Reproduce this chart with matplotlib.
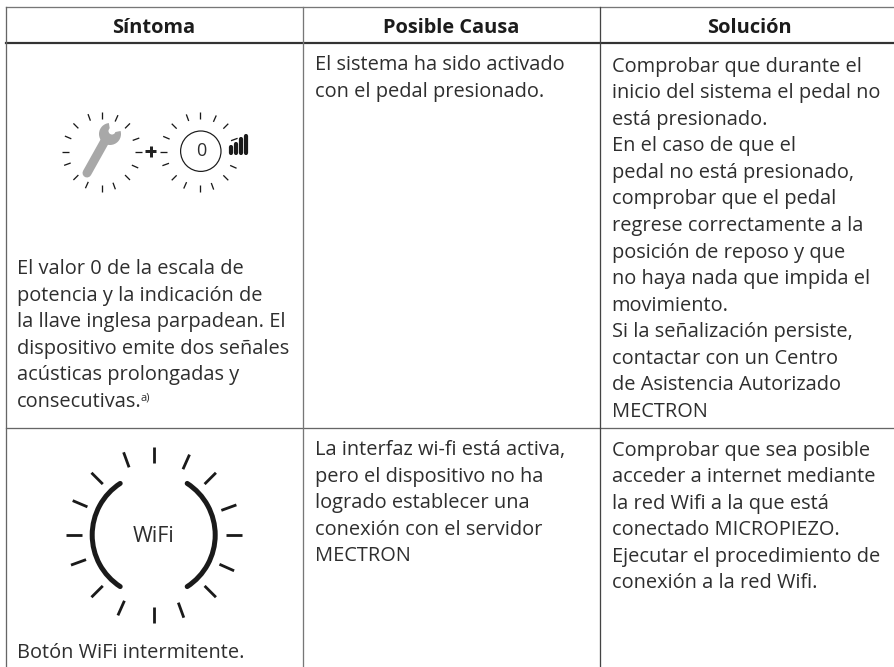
import numpy as np
import matplotlib
matplotlib.use('Agg')
import matplotlib.pyplot as plt
from matplotlib.patches import Arc, Circle, Polygon

headers = ['Síntoma', 'Posible Causa', 'Solución']
sintoma1 = ['El valor 0 de la escala de', 'potencia y la indicación de',
            'la llave inglesa parpadean. El', 'dispositivo emite dos señales',
            'acústicas prolongadas y', 'consecutivas.']
sintoma2 = ['Botón WiFi intermitente.']
causa1 = ['El sistema ha sido activado', 'con el pedal presionado.']
causa2 = ['La interfaz wi-fi está activa,', 'pero el dispositivo no ha',
          'logrado establecer una', 'conexión con el servidor', 'MECTRON']
solucion1 = ['Comprobar que durante el', 'inicio del sistema el pedal no',
             'está presionado.', 'En el caso de que el',
             'pedal no está presionado,', 'comprobar que el pedal',
             'regrese correctamente a la', 'posición de reposo y que',
             'no haya nada que impida el', 'movimiento.',
             'Si la señalización persiste,', 'contactar con un Centro',
             'de Asistencia Autorizado', 'MECTRON']
solucion2 = ['Comprobar que sea posible', 'acceder a internet mediante',
             'la red Wifi a la que está', 'conectado MICROPIEZO.',
             'Ejecutar el procedimiento de', 'conexión a la red Wifi.']
blink_angles = [0, 20, 45, 66, 90, 110, 135, 157, 180, 200, 225, 246, 270, 290, 315, 336]
signal_tops = [145, 142, 137.7, 134.3]

plt.rcParams['font.family'] = ['Open Sans', 'DejaVu Sans']
txt = '#2e2e2e'
fs = 14.45
step = 26.55

fig = plt.figure(figsize=(8.95, 6.67), dpi=100)
ax = fig.add_axes([0, 0, 1, 1])
ax.set_xlim(0, 895)
ax.set_ylim(667, 0)
ax.axis('off')


def px(n):
    return n*0.72


def para(x, y, lines):
    for i, s in enumerate(lines):
        ax.text(x, y+i*step, s, fontsize=fs, color=txt, va='baseline', ha='left')


def blink(cx, cy, r0, r1, lw, skip=()):
    for a in blink_angles:
        if a in skip:
            continue
        c, s = np.cos(np.radians(a)), np.sin(np.radians(a))
        ax.plot([cx+r0*c, cx+r1*c], [cy-r0*s, cy-r1*s], color='#1a1a1a', lw=px(lw),
                solid_capstyle='butt')


# table lines
ax.plot([6, 895], [6.7, 6.7], color='#777777', lw=px(1.3))
ax.plot([6, 895], [42.7, 42.7], color='#333333', lw=px(2.2))
ax.plot([6, 895], [427.5, 427.5], color='#666666', lw=px(1.3))
ax.plot([6, 6], [6.7, 667], color='#666666', lw=px(1.3))
ax.plot([302.7, 302.7], [6.7, 667], color='#777777', lw=px(1.3))
ax.plot([600.3, 600.3], [6.7, 667], color='#444444', lw=px(1.3))

# headers
for x, s in zip([154, 451.5, 749], headers):
    ax.text(x, 32.7, s, fontsize=fs, fontweight='bold', color='#1c1c1c', ha='center', va='baseline')

para(16.7, 274, sintoma1)
ax.text(140.7, 401, 'a)', fontsize=8, color=txt, va='baseline')
para(16.7, 658, sintoma2)
para(315, 70, causa1)
para(315, 455, causa2)
para(611.7, 71.7, solucion1)
para(611.7, 455.7, solucion2)

# wrench icon
blink(101.7, 151.7, 33, 40, 1.3)
ax.plot([87, 106], [173, 139], color='#a8a8a8', lw=px(9), solid_capstyle='round')
ax.add_patch(Circle((110, 134), 11, color='#a8a8a8', lw=0))
ax.add_patch(Polygon([[110.5, 133], [108.5, 121], [123, 121], [123, 130.5]], color='white', lw=0))
ax.add_patch(Circle((112, 131), 3.5, color='white', lw=0))

# plus
ax.plot([145.5, 156], [151.3, 151.3], color='#222222', lw=px(3), solid_capstyle='butt')
ax.plot([150.8, 150.8], [145.5, 156.5], color='#222222', lw=px(3), solid_capstyle='butt')

# power icon
blink(200, 152, 33, 40, 1.3, skip=(0,))
ax.add_patch(Circle((200.8, 151.2), 20.2, fc='none', ec='#1a1a1a', lw=px(1.2)))
ax.text(200.8, 151.5, '0', fontsize=13, color=txt, ha='center', va='center')
for x, t in zip([231.5, 236.3, 241, 246], signal_tops):
    ax.plot([x, x], [t+1.5, 152.5], color='#1a1a1a', lw=px(4.2), solid_capstyle='round')

# wifi icon
blink(153.7, 535, 72, 88, 2.8)
ax.add_patch(Arc((153.7, 535), 123, 123, theta1=123, theta2=237, color='#1a1a1a',
                 lw=px(5), capstyle='round'))
ax.add_patch(Arc((153.7, 535), 123, 123, theta1=-57, theta2=57, color='#1a1a1a',
                 lw=px(5), capstyle='round'))
ax.text(153.7, 537, 'WiFi', fontsize=15.5, color=txt, ha='center', va='center')

fig.savefig('out.png', dpi=100)
